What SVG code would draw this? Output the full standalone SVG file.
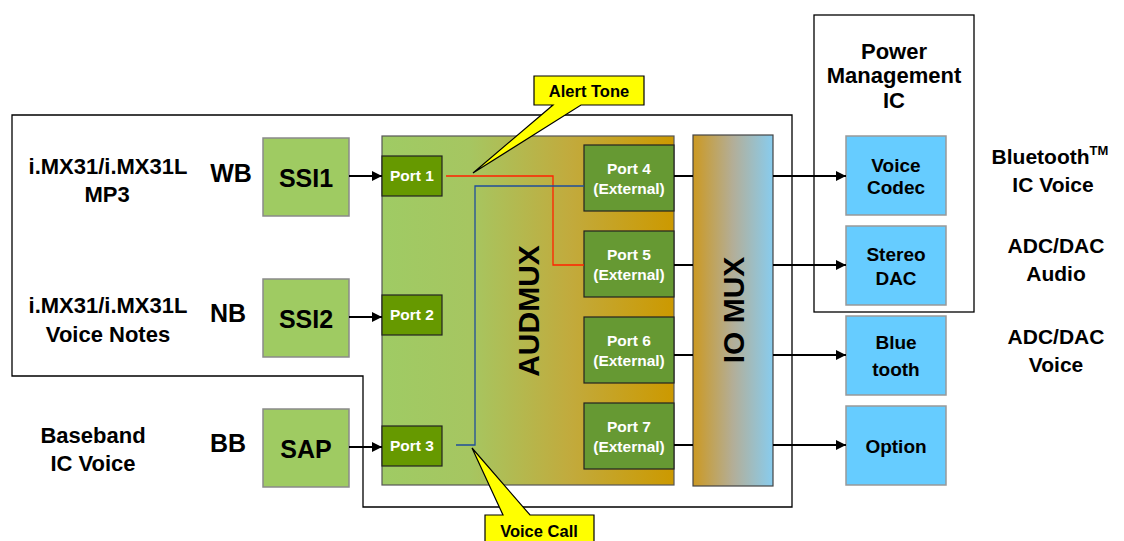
<svg xmlns="http://www.w3.org/2000/svg" width="1124" height="541" viewBox="0 0 1124 541">
<style>
text{font-family:"Liberation Sans",Arial,sans-serif;font-weight:bold;text-anchor:middle;fill:#000}
.lbl{font-size:22px}
.tag{font-size:25px}
.ssi{fill:#9FCB62;stroke:#8a8a8a;stroke-width:1.5}
.ssit{font-size:25px}
.pin{fill:#669900;stroke:#222;stroke-width:1.2}
.pex{fill:#669933;stroke:#222;stroke-width:1.2}
.pt{font-size:15.5px;fill:#fff}
.blu{fill:#66CCFF;stroke:#999;stroke-width:1.5}
.bt{font-size:19px}
.rt{font-size:21px}
.call{fill:#FFFF00;stroke:#000;stroke-width:1.2}
.ct{font-size:16.5px}
.wire{stroke:#000;stroke-width:2;fill:none}
.arr{stroke:#000;stroke-width:2;fill:none;marker-end:url(#ah)}
.out{stroke:#000;stroke-width:1.3;fill:none}
</style>
<defs>
<marker id="ah" viewBox="0 0 10 10" refX="10" refY="5" markerWidth="5.5" markerHeight="5" markerUnits="strokeWidth" orient="auto">
<path d="M0,0 L10,5 L0,10 Z" fill="#000"/>
</marker>
<linearGradient id="gAud" x1="0" y1="0" x2="1" y2="0">
<stop offset="0" stop-color="#9FCB64"/>
<stop offset="0.3" stop-color="#A6C661"/>
<stop offset="0.65" stop-color="#C2AA3C"/>
<stop offset="1" stop-color="#CC9900"/>
</linearGradient>
<linearGradient id="gIo" x1="0" y1="0" x2="1" y2="0">
<stop offset="0" stop-color="#CC9922"/>
<stop offset="0.5" stop-color="#B3AE98"/>
<stop offset="1" stop-color="#88CCEE"/>
</linearGradient>
</defs>

<g id="imx-outline">
<path class="out" d="M12,115 H792 V507 H363 V376 H12 Z"/>
</g>
<g id="pmic">
<rect class="out" x="814" y="15" width="160" height="297"/>
<text class="lbl" x="894" y="59">Power</text>
<text class="lbl" x="894" y="83">Management</text>
<text class="lbl" x="894" y="108">IC</text>
</g>

<g id="labels">
<text class="lbl" x="108" y="174">i.MX31/i.MX31L</text>
<text class="lbl" x="107" y="202">MP3</text>
<text class="tag" x="231" y="182">WB</text>
<text class="lbl" x="108" y="313">i.MX31/i.MX31L</text>
<text class="lbl" x="108" y="342">Voice Notes</text>
<text class="tag" x="228" y="322">NB</text>
<text class="lbl" x="93" y="443">Baseband</text>
<text class="lbl" x="93" y="471">IC Voice</text>
<text class="tag" x="228" y="452">BB</text>
<text class="rt" x="1050" y="164">Bluetooth<tspan font-size="13" dy="-9">TM</tspan></text>
<text class="rt" x="1053" y="192">IC Voice</text>
<text class="rt" x="1056" y="253">ADC/DAC</text>
<text class="rt" x="1056" y="281">Audio</text>
<text class="rt" x="1056" y="344">ADC/DAC</text>
<text class="rt" x="1056" y="372">Voice</text>
</g>

<g id="ssi1"><rect class="ssi" x="263" y="138" width="86" height="78"/><text class="ssit" x="306" y="187">SSI1</text></g>
<g id="ssi2"><rect class="ssi" x="263" y="279" width="86" height="78"/><text class="ssit" x="306" y="328">SSI2</text></g>
<g id="sap"><rect class="ssi" x="263" y="409" width="86" height="78"/><text class="ssit" x="306" y="458">SAP</text></g>

<g id="audmux">
<rect x="382" y="136" width="292" height="349" fill="url(#gAud)" stroke="#555" stroke-width="1.2"/>
<text font-size="30" transform="translate(539,311) rotate(-90)">AUDMUX</text>
</g>
<g id="iomux">
<rect x="693" y="135" width="80" height="351" fill="url(#gIo)" stroke="#444" stroke-width="1.2"/>
<text font-size="30" transform="translate(744,310) rotate(-90)">IO MUX</text>
</g>

<g id="port1"><rect class="pin" x="382" y="156" width="60" height="40"/><text class="pt" x="412" y="181">Port 1</text></g>
<g id="port2"><rect class="pin" x="382" y="295" width="60" height="40"/><text class="pt" x="412" y="320">Port 2</text></g>
<g id="port3"><rect class="pin" x="382" y="426" width="60" height="40"/><text class="pt" x="412" y="451">Port 3</text></g>
<g id="port4"><rect class="pex" x="584" y="145" width="90" height="66"/><text class="pt" x="629" y="174">Port 4</text><text class="pt" x="629" y="194">(External)</text></g>
<g id="port5"><rect class="pex" x="584" y="231" width="90" height="66"/><text class="pt" x="629" y="260">Port 5</text><text class="pt" x="629" y="280">(External)</text></g>
<g id="port6"><rect class="pex" x="584" y="317" width="90" height="66"/><text class="pt" x="629" y="346">Port 6</text><text class="pt" x="629" y="366">(External)</text></g>
<g id="port7"><rect class="pex" x="584" y="403" width="90" height="66"/><text class="pt" x="629" y="432">Port 7</text><text class="pt" x="629" y="452">(External)</text></g>

<g id="voice-codec"><rect class="blu" x="846" y="136" width="100" height="79"/><text class="bt" x="896" y="172">Voice</text><text class="bt" x="896" y="194">Codec</text></g>
<g id="stereo-dac"><rect class="blu" x="846" y="226" width="100" height="79"/><text class="bt" x="896" y="261">Stereo</text><text class="bt" x="896" y="285">DAC</text></g>
<g id="bluetooth"><rect class="blu" x="846" y="316" width="100" height="79"/><text class="bt" x="896" y="349">Blue</text><text class="bt" x="896" y="376">tooth</text></g>
<g id="option"><rect class="blu" x="846" y="406" width="100" height="79"/><text class="bt" x="896" y="453">Option</text></g>

<g id="connectors">
<line class="arr" x1="349" y1="176" x2="382" y2="176"/>
<line class="arr" x1="349" y1="317" x2="382" y2="317"/>
<line class="arr" x1="349" y1="447" x2="382" y2="447"/>
<line class="wire" x1="674" y1="176" x2="693" y2="176"/>
<line class="wire" x1="674" y1="265" x2="693" y2="265"/>
<line class="wire" x1="674" y1="355" x2="693" y2="355"/>
<line class="wire" x1="674" y1="445" x2="693" y2="445"/>
<line class="arr" x1="773" y1="176" x2="846" y2="176"/>
<line class="arr" x1="773" y1="265" x2="846" y2="265"/>
<line class="arr" x1="773" y1="355" x2="846" y2="355"/>
<line class="arr" x1="773" y1="445" x2="846" y2="445"/>
<path d="M446,176 H553 V265 H584" stroke="#FF2200" stroke-width="1.3" fill="none"/>
<path d="M456,445 H475 V186 H584" stroke="#1F4E9A" stroke-width="1.3" fill="none"/>
</g>

<g id="alert-tone">
<path class="call" d="M534,76 H644 V105 H581 L473,173 L553,105 H534 Z"/>
<text class="ct" x="589" y="97">Alert Tone</text>
</g>
<g id="voice-call">
<path class="call" d="M485,515 H503 L472,448 L530,515 H594 V548 H485 Z"/>
<text class="ct" x="539" y="537">Voice Call</text>
</g>
</svg>
